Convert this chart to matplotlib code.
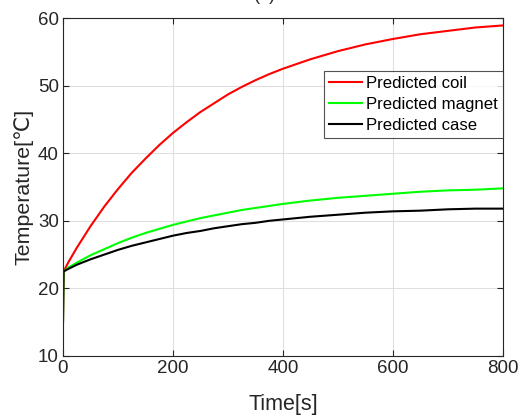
import matplotlib
matplotlib.use("Agg")
import matplotlib.pyplot as plt

plt.rcParams['font.family'] = ['Liberation Sans', 'DejaVu Sans']

time_s = [0, 1, 10, 25, 50, 75, 100, 125, 150, 175, 200, 225, 250, 275, 300,
          325, 350, 375, 400, 450, 500, 550, 600, 650, 700, 750, 800]
coil = [15.0, 22.5, 23.9, 26.0, 29.2, 32.1, 34.7, 37.1, 39.2, 41.2, 43.0, 44.6,
        46.1, 47.4, 48.7, 49.8, 50.8, 51.7, 52.5, 53.9, 55.1, 56.1, 56.9, 57.6,
        58.1, 58.6, 58.9]
magnet = [15.0, 22.5, 23.1, 23.8, 24.9, 25.8, 26.7, 27.5, 28.2, 28.8, 29.4, 29.9,
          30.4, 30.8, 31.2, 31.6, 31.9, 32.2, 32.5, 33.0, 33.4, 33.7, 34.0, 34.3,
          34.5, 34.6, 34.8]
case = [15.0, 22.5, 22.9, 23.5, 24.3, 25.0, 25.7, 26.3, 26.8, 27.3, 27.8, 28.2,
        28.5, 28.9, 29.2, 29.5, 29.7, 30.0, 30.2, 30.6, 30.9, 31.2, 31.4, 31.5,
        31.7, 31.8, 31.8]

x_ticks = [0, 200, 400, 600, 800]
y_ticks = [10, 20, 30, 40, 50, 60]

fig = plt.figure(figsize=(5.25, 4.17), dpi=100)
ax = fig.add_axes([0.12, 0.1463, 0.838, 0.8105])

ax.plot(time_s, coil, color=(1, 0, 0), lw=1.5, label='Predicted coil')
ax.plot(time_s, magnet, color=(0, 1, 0), lw=1.5, label='Predicted magnet')
ax.plot(time_s, case, color='black', lw=1.5, label='Predicted case')

ax.set_xlim(0, 800)
ax.set_ylim(10, 60)
ax.set_xticks(x_ticks)
ax.set_yticks(y_ticks)
ax.grid(True, color='#dfdfdf', lw=0.8)
ax.set_axisbelow(True)

for s in ax.spines.values():
    s.set_color('#262626')
    s.set_linewidth(0.8)
ax.tick_params(direction='in', top=True, right=True, length=4,
               colors='#262626', labelsize=13.5, pad=3)

ax.set_xlabel('Time[s]', fontsize=15.5, color='#262626', labelpad=12)
ax.set_ylabel('Temperature[℃]', fontsize=15.4, color='#262626', labelpad=3)

leg = ax.legend(loc='upper right', bbox_to_anchor=(0.999, 0.843), fontsize=12.1,
                frameon=True, fancybox=False, handlelength=2.0,
                handletextpad=0.2, borderpad=0.3, labelspacing=0.35,
                borderaxespad=0)
leg.get_frame().set_edgecolor('#262626')
leg.get_frame().set_linewidth(0.8)

# title sits mostly above the top edge, as in the source image
fig.text(0.505, 1.0, '(a)', ha='center', va='baseline', fontsize=13, color='#262626')

fig.savefig('out.png', dpi=100)
